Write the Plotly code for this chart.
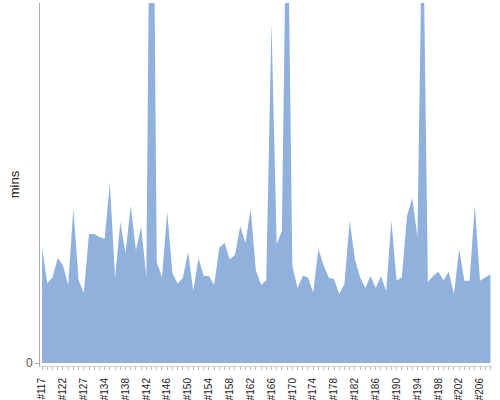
import plotly.graph_objects as go

# build numbers along the x axis
builds = ["#117", "#118", "#119", "#121", "#122", "#123", "#124", "#126", "#127",
          "#128", "#130", "#132"] + ["#%d" % n for n in range(134, 209)]

# duration of each build in minutes
mins = [19.2, 13.3, 14.3, 17.5, 16.3, 13.0, 25.8, 13.8, 11.7, 21.5,
        21.5, 21.0, 20.7, 30.0, 14.2, 23.5, 18.3, 26.2, 18.8, 22.7,
        14.3, 120.5, 16.8, 14.3, 25.2, 15.0, 13.2, 14.2, 18.5, 12.0,
        17.5, 14.5, 14.5, 13.0, 19.2, 20.0, 17.3, 18.0, 22.8, 20.0,
        25.7, 15.5, 13.0, 13.8, 56.7, 19.8, 22.0, 87.2, 16.2, 12.5,
        14.5, 14.3, 11.7, 19.0, 16.3, 14.2, 14.0, 11.5, 13.2, 23.7,
        17.3, 14.3, 12.5, 14.5, 12.5, 14.5, 12.0, 23.7, 13.7, 14.3,
        24.5, 27.5, 21.0, 80.0, 13.5, 14.5, 15.2, 13.8, 15.2, 11.5,
        19.0, 13.7, 13.7, 26.3, 13.7, 14.2, 14.8]

idx = list(range(len(builds)))
# label every 4th build, tick every build
tick_text = [b if i % 4 == 0 else "" for i, b in enumerate(builds)]

fig = go.Figure()
fig.add_trace(go.Scatter(
    x=idx,
    y=mins,
    mode="lines",
    fill="tozeroy",
    fillcolor="rgb(143,177,219)",
    line=dict(width=0, color="rgb(143,177,219)"),
    name="mins"
))

fig.update_layout(
    width=500, height=400,
    margin=dict(l=40, r=8, t=3, b=34),
    paper_bgcolor="white",
    plot_bgcolor="white",
    showlegend=False,
    font=dict(family="Liberation Sans, Arial, sans-serif", size=10, color="#333"),
    xaxis=dict(
        range=[-0.4, 86.3],
        tickvals=idx,
        ticktext=tick_text,
        tickangle=-90,
        ticks="outside",
        ticklen=3,
        tickcolor="#bbb",
        tickfont=dict(size=10, color="#222"),
        ticklabelstandoff=4,
        showline=True,
        linecolor="#ccc",
        showgrid=False,
        zeroline=False,
        automargin=False,
    ),
    yaxis=dict(
        range=[-0.5, 60],
        tickvals=[0],
        ticks="outside",
        ticklen=4,
        tickcolor="#aaa",
        tickfont=dict(color="#555", size=12),
        showline=True,
        linecolor="#aaa",
        showgrid=False,
        zeroline=False,
        automargin=False,
        title=dict(text="mins", font=dict(size=13, color="#222"), standoff=3),
    ),
)

# drop the page's default body margin so the 500x400 figure fills the window
fig.write_html("out.html", config={"displayModeBar": False},
               post_script="document.body.style.margin='0';")
